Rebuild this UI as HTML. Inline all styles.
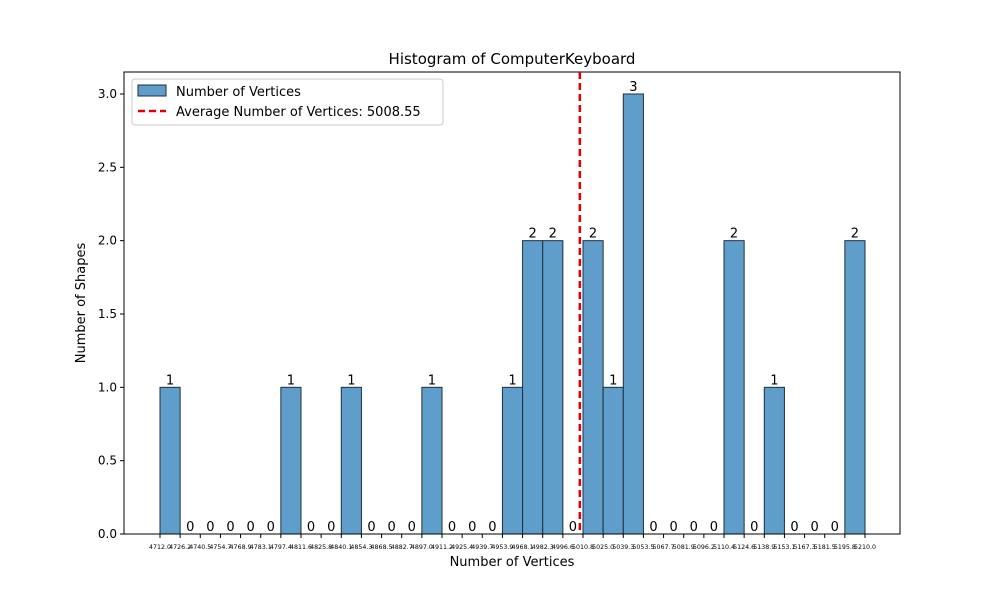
<!DOCTYPE html>
<html><head><meta charset="utf-8"><style>
body{margin:0;background:#fff;}
svg text{font-family:"DejaVu Sans","Liberation Sans",sans-serif;}
</style></head><body>
<svg id="chart" width="1000" height="600" xmlns="http://www.w3.org/2000/svg">
<rect width="1000" height="600" fill="#fff"/>
<g id="plot"></g>
</svg>
<script>
const binEdgeStart = 4712.0;
const binEdgeEnd = 5210.0;
const counts = [1,0,0,0,0,0,1,0,0,1,0,0,0,1,0,0,0,1,2,2,0,2,1,3,0,0,0,0,2,0,1,0,0,0,2];
const yTicks = [0,0.5,1.0,1.5,2.0,2.5,3.0];
const meanValue = 5008.55;
const titleText = "Histogram of ComputerKeyboard";

const NS="http://www.w3.org/2000/svg";
const g=document.getElementById('plot');
const L=124,R=900,T=72,B=534;
const nb=counts.length, bw=(binEdgeEnd-binEdgeStart)/nb;
const xs=v=>160+(v-binEdgeStart)/(binEdgeEnd-binEdgeStart)*705;
const ys=v=>534-v*146.67;
function el(t,a,txt){const e=document.createElementNS(NS,t);for(const k in a)e.setAttribute(k,a[k]);if(txt!==undefined)e.textContent=txt;g.appendChild(e);return e;}

counts.forEach((c,i)=>{
  const x0=xs(binEdgeStart+i*bw),x1=xs(binEdgeStart+(i+1)*bw);
  if(c>0){const r=el('rect',{x:x0,y:ys(c),width:x1-x0,height:ys(0)-ys(c),fill:'#5f9ecb',stroke:'#1f2f3f','stroke-width':1});
  
  }
  const t=el('text',{x:(x0+x1)/2,y:ys(c)-3,'text-anchor':'middle','font-size':13},String(c));
  
  
});
// axes frame
const fr=el('rect',{x:L,y:T,width:R-L,height:B-T,fill:'none',stroke:'#000','stroke-width':1});


// x ticks
for(let i=0;i<=nb;i++){
  const v=binEdgeStart+i*bw,x=xs(v);
  el('line',{x1:x,x2:x,y1:B,y2:B+4,stroke:'#000'});
  const t=el('text',{x:x,y:B+15,'text-anchor':'middle','font-size':6.3},v.toFixed(1));
  
  
}
yTicks.forEach(v=>{
  const y=ys(v);
  el('line',{x1:L-4,x2:L,y1:y,y2:y,stroke:'#000'});
  const t=el('text',{x:L-7,y:y+4,'text-anchor':'end','font-size':12},v.toFixed(1));
  
  
});
// mean line
const ml=el('line',{x1:xs(meanValue),x2:xs(meanValue),y1:T,y2:B,stroke:'#e00000','stroke-width':2.5,'stroke-dasharray':'7,4'});


// titles
let t=el('text',{x:512,y:64,'text-anchor':'middle','font-size':15},titleText);

t=el('text',{x:512,y:566,'text-anchor':'middle','font-size':13},'Number of Vertices');

t=el('text',{x:85,y:303,'text-anchor':'middle','font-size':13,transform:'rotate(-90 85 303)'},'Number of Shapes');

// legend
const lg=el('rect',{x:132,y:79,width:311,height:46,fill:'#fff',stroke:'#ccc',rx:3});

el('rect',{x:138,y:85,width:28,height:11,fill:'#5f9ecb',stroke:'#1f2f3f'});
t=el('text',{x:176,y:96,'font-size':13},'Number of Vertices');

el('line',{x1:138,x2:166,y1:111,y2:111,stroke:'#e00000','stroke-width':2.5,'stroke-dasharray':'7,4'});
t=el('text',{x:176,y:116,'font-size':13},'Average Number of Vertices: '+meanValue.toFixed(2));

</script>
</body></html>
